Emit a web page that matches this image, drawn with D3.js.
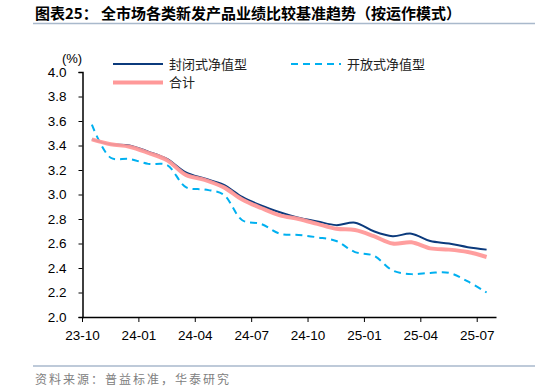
<!DOCTYPE html>
<html>
<head>
<meta charset="utf-8">
<script src="https://cdn.jsdelivr.net/npm/d3@7"></script>
<style>
  body { margin: 0; background: #fff; }
  svg { display: block; }
  text { font-family: "Liberation Sans", Arial, sans-serif; }
  .cn { font-family: "Noto Sans CJK SC", sans-serif; }
</style>
</head>
<body>
<script>
// monthly data 23-10 .. 25-07
var months = ["23-10","23-11","23-12","24-01","24-02","24-03","24-04","24-05","24-06","24-07","24-08","24-09",
  "24-10","24-11","24-12","25-01","25-02","25-03","25-04","25-05","25-06","25-07"]
var closedVals = [3.45, 3.41, 3.40, 3.35, 3.29, 3.18, 3.13, 3.08, 2.98, 2.91, 2.855, 2.81,
  2.78, 2.75, 2.77, 2.70, 2.66, 2.68, 2.62, 2.60, 2.57, 2.55]
var openVals = [3.57, 3.30, 3.29, 3.25, 3.24, 3.06, 3.04, 3.00, 2.79, 2.76, 2.68, 2.67,
  2.65, 2.62, 2.53, 2.50, 2.38, 2.35, 2.36, 2.36, 2.29, 2.20]
var totalVals = [3.45, 3.41, 3.39, 3.34, 3.28, 3.16, 3.12, 3.06, 2.96, 2.89, 2.83, 2.80,
  2.76, 2.72, 2.71, 2.66, 2.60, 2.61, 2.56, 2.55, 2.53, 2.49]
var tickMonths = ["23-10","24-01","24-04","24-07","24-10","25-01","25-04","25-07"]
var yTicks = [2.0, 2.2, 2.4, 2.6, 2.8, 3.0, 3.2, 3.4, 3.6, 3.8, 4.0]

var svg = d3.select("body").append("svg")
  .attr('width', 535)
  .attr('height', 392)

// title + rules
svg.append("text").attr("class", "cn")
  .attr("x", 35).attr("y", 19)
  .attr("font-size", 15).attr("font-weight", "bold").attr("fill", "#000")
  .text("图表25：  全市场各类新发产品业绩比较基准趋势（按运作模式）")
svg.append("line").attr("x1", 33).attr("x2", 535).attr("y1", 23.5).attr("y2", 23.5)
  .attr("stroke", "#a9b9cc").attr("stroke-width", 1.5)
svg.append("line").attr("x1", 33).attr("x2", 535).attr("y1", 366).attr("y2", 366)
  .attr("stroke", "#a9b9cc").attr("stroke-width", 1.5)
svg.append("text").attr("class", "cn")
  .attr("x", 35).attr("y", 384)
  .attr("font-size", 12).attr("letter-spacing", 2).attr("fill", "#808080")
  .text("资料来源：普益标准，华泰研究")

var x = d3.scaleBand().domain(months).range([82.5, 496]).padding(0)
var y = d3.scaleLinear().domain([2, 4]).range([317, 72])

var yAxis = svg.append("g")
  .attr("transform", "translate(82.5,0)")
  .call(d3.axisLeft(y).tickValues(yTicks).tickFormat(d3.format(".1f")).tickSize(4).tickPadding(12))
yAxis.selectAll("text").attr("font-size", 13.5).attr("fill", "#000").attr("font-family", "Liberation Sans, Arial")

var xAxis = svg.append("g")
  .attr("transform", "translate(0,317)")
  .call(d3.axisBottom(x).tickValues(tickMonths).tickSize(5).tickPadding(8).tickSizeOuter(0))
// ticks sit at category left edges
xAxis.selectAll(".tick").attr("transform", function(d) { return "translate(" + x(d) + ",0)" })
xAxis.selectAll("text").attr("font-size", 13.5).attr("fill", "#000").attr("font-family", "Liberation Sans, Arial")
svg.selectAll(".domain").attr("stroke", "#000").attr("stroke-width", 1.5)
svg.selectAll(".tick line").attr("stroke", "#000")

svg.append("text").attr("x", 72).attr("y", 63).attr("text-anchor", "middle")
  .attr("font-size", 13).text("(%)")

function cx(i) { return x(months[i]) + x.bandwidth() / 2 }
var line = d3.line()
  .x(function(d, i) { return cx(i) })
  .y(function(d) { return y(d) })
  .curve(d3.curveCatmullRom.alpha(0.5))

svg.append("path").datum(openVals).attr("d", line)
  .attr("fill", "none").attr("stroke", "#00b0f0").attr("stroke-width", 2)
  .attr("stroke-dasharray", "7,5")
svg.append("path").datum(closedVals).attr("d", line)
  .attr("fill", "none").attr("stroke", "#0b3a7c").attr("stroke-width", 2)
svg.append("path").datum(totalVals).attr("d", line)
  .attr("fill", "none").attr("stroke", "#ff9999").attr("stroke-width", 4).attr("stroke-opacity", 0.95)

// legend
var legend = [
  {name: "封闭式净值型", x: 113, y: 64, color: "#0b3a7c", w: 2, dash: null},
  {name: "开放式净值型", x: 291, y: 64, color: "#00b0f0", w: 2, dash: "7,5"},
  {name: "合计", x: 113, y: 82.5, color: "#ff9999", w: 4, dash: null}
]
legend.forEach(function(l) {
  svg.append("text").attr("class", "cn").attr("x", l.x + 56).attr("y", l.y + 4.5)
    .attr("font-size", 13).attr("fill", "#222").text(l.name)
  svg.append("line").attr("x1", l.x).attr("x2", l.x + 50).attr("y1", l.y).attr("y2", l.y)
    .attr("stroke", l.color).attr("stroke-width", l.w).attr("stroke-dasharray", l.dash)
})
</script>
</body>
</html>
